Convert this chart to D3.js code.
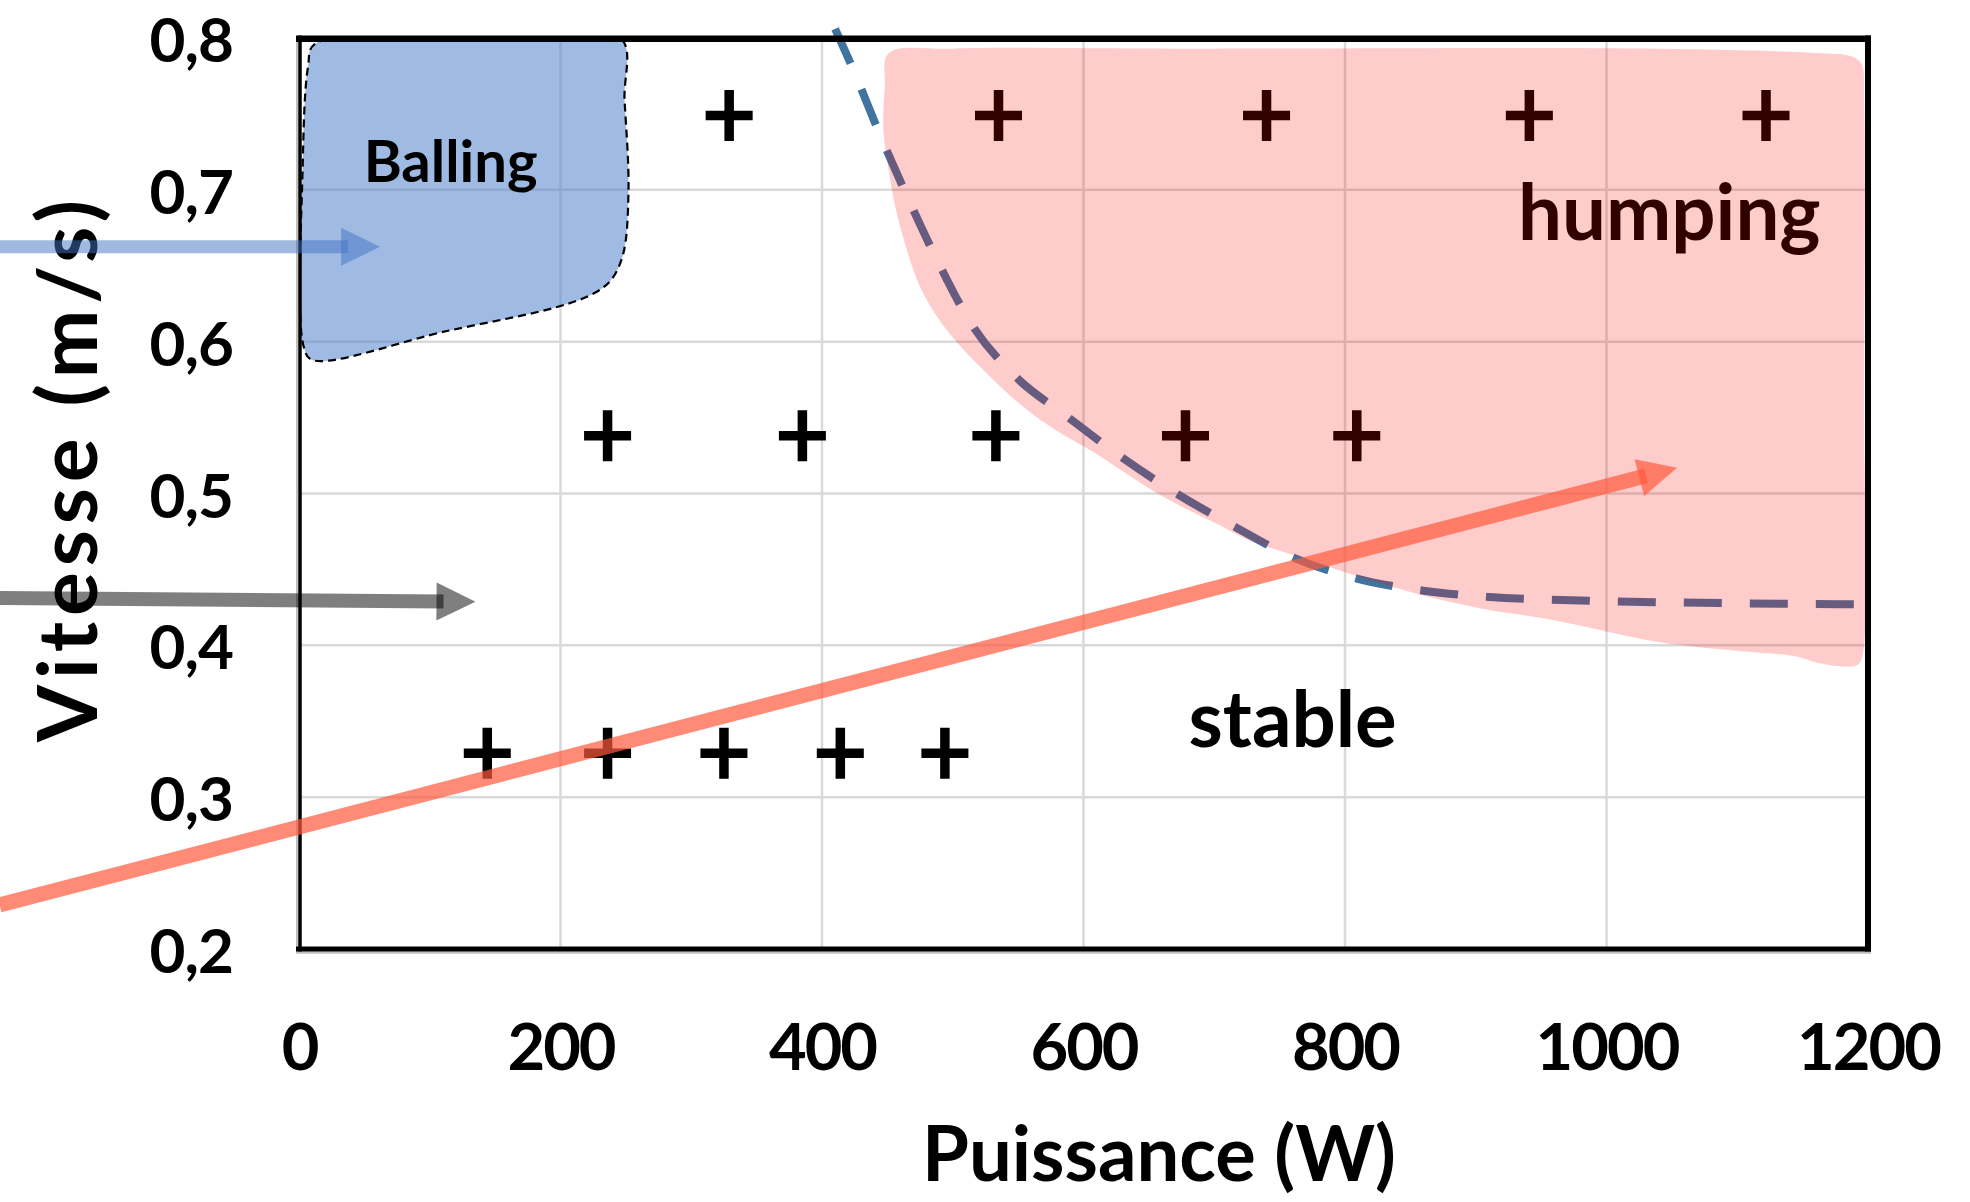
<!DOCTYPE html>
<html lang="fr">
<head>
<meta charset="utf-8">
<title>Vitesse / Puissance</title>
<style>
  body { margin: 0; background: #fff; }
  svg text { font-family: Lato, "Open Sans", sans-serif; font-weight: 700; fill: #000; }
</style>
</head>
<body>
<div id="chart"></div>
<script src="https://cdn.jsdelivr.net/npm/d3@7/dist/d3.min.js"></script>
<script>

// axes
var xTicks = [0, 200, 400, 600, 800, 1000, 1200];
var yTicks = [0.2, 0.3, 0.4, 0.5, 0.6, 0.7, 0.8];

// essais : [puissance (W), vitesse (m/s)]
var essais = [
    [329, 0.749], [535, 0.749], [740, 0.749], [941, 0.749], [1122, 0.749],
    [236, 0.538], [385, 0.538], [533, 0.538], [678, 0.538], [809, 0.538],
    [144, 0.329], [236, 0.329], [325, 0.329], [414, 0.329], [494, 0.329]
];

// zone "Balling"
var ballingZone = [
    [12, 0.796], [150, 0.799], [246, 0.800], [249, 0.759], [252, 0.700], [248, 0.658],
    [239, 0.641], [226, 0.632], [198, 0.623], [113, 0.607],
    [10, 0.588], [3.5, 0.597], [2.8, 0.715], [6.9, 0.781]
];

// zone "humping"
var humpingZone = [
    [451, 0.790], [500, 0.793], [674, 0.793], [1041, 0.793], [1164, 0.790],
    [1187, 0.788], [1195, 0.783], [1197, 0.759], [1197, 0.562], [1196, 0.394],
    [1192, 0.387], [1184, 0.386], [1164, 0.388], [1143, 0.393], [1105, 0.396],
    [1041, 0.402], [957, 0.417], [906, 0.424], [855, 0.434], [804, 0.447],
    [766, 0.458], [727, 0.469], [702, 0.480], [676, 0.491], [651, 0.503],
    [608, 0.527], [582, 0.540], [557, 0.555], [531, 0.575], [508, 0.595],
    [490, 0.614], [475, 0.636], [464, 0.663], [456, 0.689], [451, 0.713],
    [447, 0.739], [448, 0.768]
];

// limite stable / humping (pointillés)
var limite = [
    [410, 0.806], [424, 0.779], [444, 0.737], [466, 0.694], [489, 0.652],
    [514, 0.612], [548, 0.577], [587, 0.551], [629, 0.524], [673, 0.499],
    [716, 0.478], [760, 0.458], [809, 0.444], [860, 0.436], [908, 0.432],
    [957, 0.430], [1199, 0.427]
];

// flèches
var arrowRed = { from: [-229, 0.229], to: [1054, 0.517] };
var arrowBlue = { from: [-229, 0.6625], to: [62, 0.6625] };
var arrowGray = { from: [-229, 0.4312], to: [135, 0.4287] };

// étiquettes des zones
var labelBalling = { text: "Balling", pos: [116, 0.705] };
var labelHumping = { text: "humping", pos: [1048, 0.667] };
var labelStable = { text: "stable", pos: [760, 0.333] };


var W = 1970, H = 1202;

var svg = d3.select( "#chart" ).append( "svg" )
    .attr( "width" , W )
    .attr( "height" , H );

var x = d3.scaleLinear().domain( [0, 1200] ).range( [299, 1868] );
var y = d3.scaleLinear().domain( [0.2, 0.8] ).range( [949, 38] );

var fr = d3.formatLocale( { decimal: ",", thousands: " ", grouping: [3], currency: ["", " €"] } );

svg.append( "defs" ).append( "clipPath" )
    .attr( "id" , "plot-clip" )
    .append( "rect" )
        .attr( "x" , x( 0 ) )
        .attr( "y" , y( 0.8 ) )
        .attr( "width" , x( 1200 ) - x( 0 ) )
        .attr( "height" , y( 0.2 ) - y( 0.8 ) );

// grille
var grid = svg.append( "g" ).attr( "class" , "grid" );
grid.selectAll( ".vx" )
    .data( xTicks.slice( 1, -1 ) )
    .enter().append( "line" )
        .attr( "x1" , function( d ) { return x( d ); } )
        .attr( "x2" , function( d ) { return x( d ); } )
        .attr( "y1" , y( 0.8 ) )
        .attr( "y2" , y( 0.2 ) )
        .style( "stroke" , "#d9d9d9" )
        .style( "stroke-width" , 2.5 );
grid.selectAll( ".hy" )
    .data( yTicks.slice( 1, -1 ) )
    .enter().append( "line" )
        .attr( "x1" , x( 0 ) )
        .attr( "x2" , x( 1200 ) )
        .attr( "y1" , function( d ) { return y( d ); } )
        .attr( "y2" , function( d ) { return y( d ); } )
        .style( "stroke" , "#d9d9d9" )
        .style( "stroke-width" , 2.5 );

var line = d3.line()
    .x( function( d ) { return x( d[0] ); } )
    .y( function( d ) { return y( d[1] ); } );

// zone balling
svg.append( "path" )
    .datum( ballingZone )
    .attr( "clip-path" , "url(#plot-clip)" )
    .attr( "d" , line.curve( d3.curveCatmullRomClosed.alpha( 0.5 ) ) )
    .style( "fill" , "rgb(80,132,205)" )
    .style( "fill-opacity" , 0.55 )
    .style( "stroke" , "#000" )
    .style( "stroke-width" , 2.2 )
    .style( "stroke-dasharray" , "8,5" );

// courbe limite
svg.append( "path" )
    .datum( limite )
    .attr( "d" , line.curve( d3.curveMonotoneX ) )
    .style( "fill" , "none" )
    .style( "stroke" , "#41739f" )
    .style( "stroke-width" , 8 )
    .style( "stroke-dasharray" , "38,28" );

// essais
svg.selectAll( ".essai" )
    .data( essais )
    .enter().append( "path" )
        .attr( "class" , "essai" )
        .attr( "d" , function( d ) {
            var cx = x( d[0] ), cy = y( d[1] );
            return "M" + ( cx - 23.5 ) + "," + cy + "H" + ( cx + 23.5 ) +
                   "M" + cx + "," + ( cy - 25.5 ) + "V" + ( cy + 25.5 );
        } )
        .style( "stroke" , "#000" )
        .style( "stroke-width" , 9.5 );

function zoneLabel( lab, size )
{
    svg.append( "text" )
        .attr( "x" , x( lab.pos[0] ) )
        .attr( "y" , y( lab.pos[1] ) )
        .attr( "text-anchor" , "middle" )
        .style( "font-size" , size + "px" )
        .text( lab.text );
}

zoneLabel( labelBalling, 58 );
zoneLabel( labelHumping, 78 );

// zone humping, par dessus
svg.append( "path" )
    .datum( humpingZone )
    .attr( "clip-path" , "url(#plot-clip)" )
    .attr( "d" , line.curve( d3.curveCatmullRomClosed.alpha( 0.5 ) ) )
    .style( "fill" , "#ff0000" )
    .style( "fill-opacity" , 0.2 );

zoneLabel( labelStable, 78 );

// cadre
var frame = svg.append( "g" ).attr( "class" , "frame" );
frame.append( "line" ).attr( "x1" , 296 ).attr( "x2" , 1871 ).attr( "y1" , 952.5 ).attr( "y2" , 952.5 )
    .style( "stroke" , "#bfbfbf" ).style( "stroke-width" , 2.5 );
frame.append( "line" ).attr( "x1" , 297 ).attr( "x2" , 297 ).attr( "y1" , 36 ).attr( "y2" , 953 )
    .style( "stroke" , "#bfbfbf" ).style( "stroke-width" , 2 );
frame.append( "line" ).attr( "x1" , 296 ).attr( "x2" , 1871 ).attr( "y1" , y( 0.8 ) + 0.7 ).attr( "y2" , y( 0.8 ) + 0.7 )
    .style( "stroke" , "#000" ).style( "stroke-width" , 6.5 );
frame.append( "line" ).attr( "x1" , 296 ).attr( "x2" , 1871 ).attr( "y1" , y( 0.2 ) ).attr( "y2" , y( 0.2 ) )
    .style( "stroke" , "#000" ).style( "stroke-width" , 5 );
frame.append( "line" ).attr( "x1" , x( 1200 ) ).attr( "x2" , x( 1200 ) ).attr( "y1" , 35.5 ).attr( "y2" , 951.5 )
    .style( "stroke" , "#000" ).style( "stroke-width" , 6 );
frame.append( "line" ).attr( "x1" , x( 0 ) + 1 ).attr( "x2" , x( 0 ) + 1 ).attr( "y1" , 35.5 ).attr( "y2" , 951.5 )
    .style( "stroke" , "#000" ).style( "stroke-width" , 3.5 );

// axes
var xAxis = svg.append( "g" )
    .attr( "transform" , "translate(0," + y( 0.2 ) + ")" )
    .call( d3.axisBottom( x ).tickValues( xTicks ).tickSize( 0 ).tickFormat( d3.format( "d" ) ) );
xAxis.select( ".domain" ).remove();
xAxis.selectAll( "text" )
    .attr( "y" , 121 )
    .attr( "dy" , 0 )
    .style( "font-size" , "65px" )
    .style( "letter-spacing" , "-2px" )
    .style( "font-family" , null );

var yAxis = svg.append( "g" )
    .attr( "transform" , "translate(" + x( 0 ) + ",0)" )
    .call( d3.axisLeft( y ).tickValues( yTicks ).tickSize( 0 ).tickPadding( 66 ).tickFormat( fr.format( ".1f" ) ) );
yAxis.select( ".domain" ).remove();
yAxis.selectAll( "text" )
    .attr( "dy" , "0.38em" )
    .style( "font-size" , "62px" )
    .style( "letter-spacing" , "-1px" )
    .style( "font-family" , null );

svg.append( "text" )
    .attr( "transform" , "translate(97,468) rotate(-90)" )
    .attr( "text-anchor" , "middle" )
    .style( "font-size" , "82px" )
    .style( "letter-spacing" , "6px" )
    .text( "Vitesse (m/s)" );

svg.append( "text" )
    .attr( "x" , 1159 )
    .attr( "y" , 1181 )
    .attr( "text-anchor" , "middle" )
    .style( "font-size" , "76px" )
    .text( "Puissance (W)" );

// flèches
function arrow( a, color, opacity, width )
{
    var x1 = x( a.from[0] ), y1 = y( a.from[1] ), x2 = x( a.to[0] ), y2 = y( a.to[1] );
    var ang = Math.atan2( y2 - y1 , x2 - x1 );
    var ux = Math.cos( ang ), uy = Math.sin( ang );
    var headLen = 39, headHalf = 19, overlap = 7;
    var bx = x2 - ux * headLen, by = y2 - uy * headLen;
    svg.append( "line" )
        .attr( "x1" , x1 ).attr( "y1" , y1 )
        .attr( "x2" , bx + ux * overlap ).attr( "y2" , by + uy * overlap )
        .style( "stroke" , color )
        .style( "stroke-opacity" , opacity )
        .style( "stroke-width" , width );
    svg.append( "path" )
        .attr( "d" , "M" + x2 + "," + y2 +
                    "L" + ( bx - uy * headHalf ) + "," + ( by + ux * headHalf ) +
                    "L" + ( bx + uy * headHalf ) + "," + ( by - ux * headHalf ) + "Z" )
        .style( "fill" , color )
        .style( "fill-opacity" , opacity );
}

arrow( arrowRed, "#ff5a3c", 0.7, 15 );
arrow( arrowBlue, "#4472c4", 0.5, 13 );
arrow( arrowGray, "#000000", 0.5, 14 );

</script>
</body>
</html>
